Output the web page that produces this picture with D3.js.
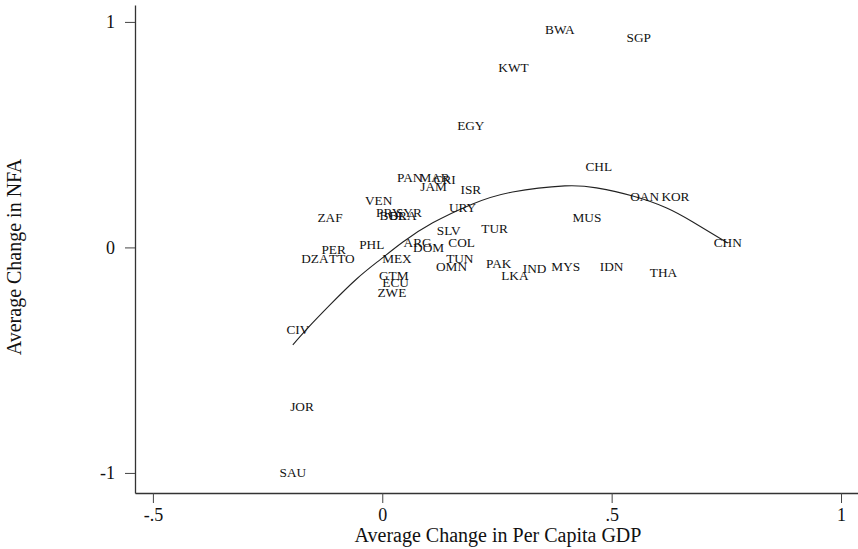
<!DOCTYPE html>
<html>
<head>
<meta charset="utf-8">
<script src="https://cdn.jsdelivr.net/npm/d3@7"></script>
<style>
  html, body { margin: 0; padding: 0; background: #fff; }
  svg { display: block; font-family: "Liberation Serif", "Times New Roman", serif; }
</style>
</head>
<body>
<div id="chart"></div>
<script>
// Country labels placed at (avg change in per capita GDP, avg change in NFA)
const countries = ["BWA","SGP","KWT","EGY","CHL","OAN","KOR","MUS","CHN","THA","IDN","MYS","IND","LKA","PAK","TUR","COL","SLV","URY","ISR","PAN","MAR","CRI","JAM","VEN","PRY","SYR","BOL","BRA","ZAF","PHL","ARG","DOM","PER","DZA","TTO","MEX","TUN","OMN","GTM","ECU","ZWE","CIV","JOR","SAU"];
const gdpChange = [0.387,0.559,0.286,0.193,0.472,0.572,0.639,0.446,0.753,0.613,0.500,0.400,0.332,0.289,0.254,0.245,0.173,0.145,0.175,0.193,0.060,0.114,0.136,0.112,-0.008,0.014,0.058,0.023,0.045,-0.114,-0.023,0.077,0.101,-0.106,-0.147,-0.088,0.032,0.169,0.151,0.025,0.029,0.021,-0.184,-0.175,-0.195];
const nfaChange = [0.965,0.929,0.800,0.539,0.361,0.228,0.224,0.131,0.020,-0.109,-0.086,-0.086,-0.095,-0.126,-0.073,0.086,0.020,0.073,0.175,0.259,0.308,0.308,0.299,0.268,0.206,0.157,0.157,0.140,0.140,0.131,0.011,0.024,-0.002,-0.011,-0.051,-0.051,-0.051,-0.051,-0.086,-0.126,-0.157,-0.202,-0.366,-0.707,-1.000];

// fitted curve
const fitX = [-0.195,-0.164,-0.114,-0.056,-0.005,0.045,0.110,0.197,0.284,0.398,0.467,0.546,0.620,0.677,0.753];
const fitY = [-0.432,-0.361,-0.255,-0.140,-0.055,0.024,0.109,0.193,0.246,0.273,0.264,0.228,0.175,0.113,0.020];

const xTicks = [-0.5, 0, 0.5, 1];
const xTickLabels = ["-.5", "0", ".5", "1"];
const yTicks = [-1, 0, 1];
const yTickLabels = ["-1", "0", "1"];

const width = 858, height = 549;
const ink = "#111";

const x = d3.scaleLinear().domain([-0.539, 1.037]).range([135, 858]);
const y = d3.scaleLinear().domain([-1.089, 1.075]).range([493, 5]);

const svg = d3.select("#chart").append("svg")
  .attr("width", width)
  .attr("height", height)
  .attr("viewBox", `0 0 ${width} ${height}`);

// axes
const xAxis = svg.append("g")
  .attr("transform", `translate(0,${y.range()[0]})`)
  .call(d3.axisBottom(x).tickValues(xTicks).tickSize(10).tickSizeOuter(0)
    .tickFormat((d, i) => xTickLabels[i]));
xAxis.select(".domain").attr("stroke", "#333").attr("stroke-width", 1.3);
xAxis.selectAll(".tick line").attr("stroke", "#444");
xAxis.selectAll(".tick text")
  .attr("y", 28).attr("dy", 0)
  .attr("fill", ink)
  .attr("font-family", "Liberation Serif")
  .attr("font-size", 18);

const yAxis = svg.append("g")
  .attr("transform", `translate(${x.range()[0]},0)`)
  .call(d3.axisLeft(y).tickValues(yTicks).tickSize(10).tickSizeOuter(0)
    .tickFormat((d, i) => yTickLabels[i]));
yAxis.select(".domain").attr("stroke", "#333").attr("stroke-width", 1.3);
yAxis.selectAll(".tick line").attr("stroke", "#444");
yAxis.selectAll(".tick text")
  .attr("x", -20)
  .attr("fill", ink)
  .attr("font-family", "Liberation Serif")
  .attr("font-size", 18);

// axis titles
svg.append("text")
  .attr("x", 498)
  .attr("y", 542)
  .attr("text-anchor", "middle")
  .attr("fill", ink)
  .attr("font-size", 20)
  .text("Average Change in Per Capita GDP");

svg.append("text")
  .attr("transform", "translate(21,257) rotate(-90)")
  .attr("text-anchor", "middle")
  .attr("fill", ink)
  .attr("font-size", 20)
  .text("Average Change in NFA");

// fitted line
const fit = fitX.map((v, i) => [v, fitY[i]]);
svg.append("path")
  .datum(fit)
  .attr("fill", "none")
  .attr("stroke", "#222")
  .attr("stroke-width", 1.1)
  .attr("d", d3.line().x(d => x(d[0])).y(d => y(d[1])).curve(d3.curveNatural));

// country labels as markers
const pts = countries.map((c, i) => ({ c, gx: gdpChange[i], ny: nfaChange[i] }));
svg.append("g")
  .selectAll("text")
  .data(pts)
  .join("text")
  .attr("x", d => x(d.gx))
  .attr("y", d => y(d.ny))
  .attr("text-anchor", "middle")
  .attr("dominant-baseline", "central")
  .attr("fill", "#111")
  .attr("font-size", 13.3)
  .text(d => d.c);
</script>
</body>
</html>
